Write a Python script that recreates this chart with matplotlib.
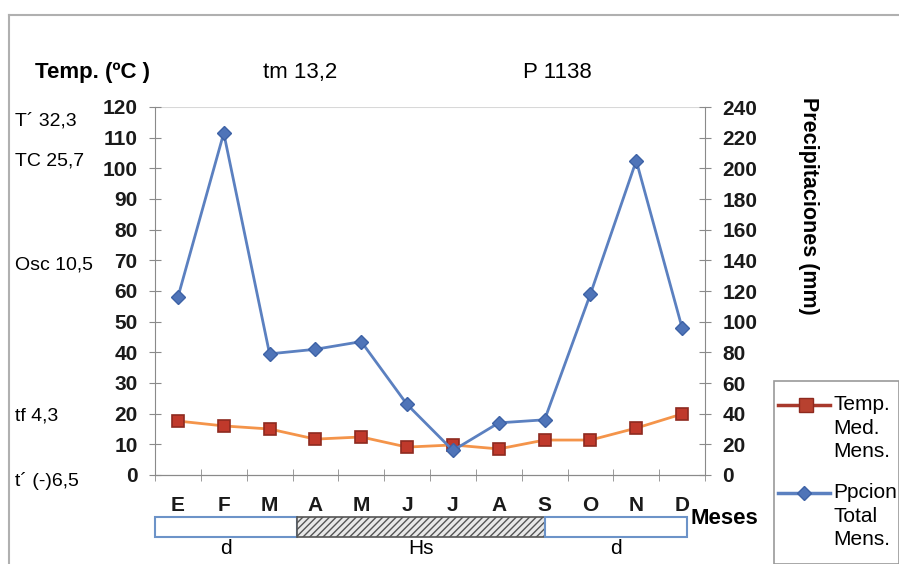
import matplotlib.pyplot as plt
from matplotlib.patches import Rectangle
from matplotlib.lines import Line2D
from matplotlib.transforms import blended_transform_factory
import numpy as np

plt.rcParams['font.family'] = ['Liberation Sans', 'DejaVu Sans']

# monthly climate data
meses = ['E', 'F', 'M', 'A', 'M', 'J', 'J', 'A', 'S', 'O', 'N', 'D']
temp_med = [17.6, 16.0, 15.0, 11.7, 12.4, 9.1, 9.8, 8.5, 11.4, 11.4, 15.3, 19.9]
ppcion = [116, 223, 79, 82, 87, 46, 16, 34, 36, 118, 205, 96]

# dry / wet season strips (start, end in month units)
periodos = [(-0.5, 2.6, 'd'), (2.6, 8.0, 'Hs'), (8.0, 11.1, 'd')]

resumen_izq = [('T´ 32,3', 121), ('TC 25,7', 161), ('Osc 10,5', 265),
               ('tf 4,3', 416), ('t´ (-)6,5', 481)]

W, H = 899, 564
fig = plt.figure(figsize=(W / 100, H / 100), dpi=100)
fig.patch.set_facecolor('white')


def fx(px):
    return px / W


def fy(py):
    return 1 - py / H


ax1 = fig.add_axes([fx(155), fy(475), fx(705) - fx(155), fy(107) - fy(475)])
ax2 = ax1.twinx()

x = np.arange(len(meses))
ax1.plot(x, temp_med, color='#F4944A', lw=2, marker='s', ms=9,
         mfc='#C0392B', mec='#8E2A1F', mew=1.2, zorder=3)
ax2.plot(x, ppcion, color='#5B80C0', lw=2, marker='D', ms=7,
         mfc='#4F74B8', mec='#3D62A6', zorder=3)

ax1.set_xlim(-0.5, 11.5)
ax1.set_ylim(0, 120)
ax2.set_ylim(0, 240)
ax1.set_yticks(np.arange(0, 121, 10))
ax2.set_yticks(np.arange(0, 241, 20))
ax1.set_xticks(x)
ax1.set_xticklabels(meses)
ax1.set_xticks(np.arange(-0.5, 12, 1), minor=True)

for a in (ax1, ax2):
    for s in a.spines.values():
        s.set_color('#8a8a8a')
    a.spines['top'].set_visible(False)
ax1.spines['right'].set_visible(False)
ax2.spines['left'].set_visible(False)
ax1.axhline(120, color='#d8d8d8', lw=1.5, zorder=1)

ax1.tick_params(axis='y', direction='inout', length=9, color='#8a8a8a',
                labelsize=15, pad=8)
ax2.tick_params(axis='y', direction='inout', length=9, color='#8a8a8a',
                labelsize=15, pad=8)
ax1.tick_params(axis='x', which='major', length=0, labelsize=15, pad=15)
ax1.tick_params(axis='x', which='minor', direction='inout', length=9,
                color='#8a8a8a')
for lab in ax1.get_xticklabels() + ax1.get_yticklabels() + ax2.get_yticklabels():
    lab.set_fontweight('bold')
    lab.set_color('#1a1a1a')

# season strip under the month axis
tr = blended_transform_factory(ax1.transData, fig.transFigure)
y0, y1 = fy(537), fy(517)
for a0, a1, txt in periodos:
    if txt == 'Hs':
        r = Rectangle((a0, y0), a1 - a0, y1 - y0, transform=tr, clip_on=False,
                      facecolor='#e8e8e8', edgecolor='#555555', hatch='/////',
                      lw=1.2)
    else:
        r = Rectangle((a0, y0), a1 - a0, y1 - y0, transform=tr, clip_on=False,
                      facecolor='white', edgecolor='#6c93c8', lw=1.5)
    fig.add_artist(r)
    fig.text((a0 + a1) / 2, fy(548), txt, transform=tr, ha='center',
             va='center', fontsize=15)

# header texts
fig.text(fx(35), fy(73), 'Temp. (ºC )', fontsize=16, fontweight='bold',
         va='center')
fig.text(fx(263), fy(73), 'tm 13,2', fontsize=16, va='center')
fig.text(fx(523), fy(73), 'P 1138', fontsize=16, va='center')
for txt, py in resumen_izq:
    fig.text(fx(15), fy(py), txt, fontsize=14, va='center')

fig.text(fx(690), fy(519), 'Meses', fontsize=16, fontweight='bold',
         va='center')
fig.text(fx(809), fy(206), 'Precipitaciones (mm)', fontsize=15.5,
         fontweight='bold', rotation=-90, ha='center', va='center')

# outer frame
fig.add_artist(Line2D([fx(9), fx(9)], [fy(15), 0], color='#b0b0b0', lw=1.5))
fig.add_artist(Line2D([fx(9), 1], [fy(15), fy(15)], color='#b0b0b0', lw=1.5))

# legend box
fig.add_artist(Rectangle((fx(774), 0), 1 - fx(774), fy(381), transform=fig.transFigure,
                         facecolor='white', edgecolor='#999999', lw=1.2))
fig.add_artist(Line2D([fx(778), fx(806), fx(830)], [fy(405)] * 3,
                      color='#A8392C', lw=2.5, marker='s', markevery=[1],
                      ms=10, mfc='#B8412F', mec='#8E2A1F'))
fig.add_artist(Line2D([fx(778), fx(804), fx(830)], [fy(493)] * 3,
                      color='#5B80C0', lw=2.5, marker='D', markevery=[1],
                      ms=7, mfc='#4F74B8', mec='#3D62A6'))
fig.text(fx(833), fy(395), 'Temp.\nMed.\nMens.', fontsize=15, va='top',
         linespacing=1.3)
fig.text(fx(833), fy(483), 'Ppcion\nTotal\nMens.', fontsize=15, va='top',
         linespacing=1.3)

fig.savefig('out.png', dpi=100, facecolor='white')
